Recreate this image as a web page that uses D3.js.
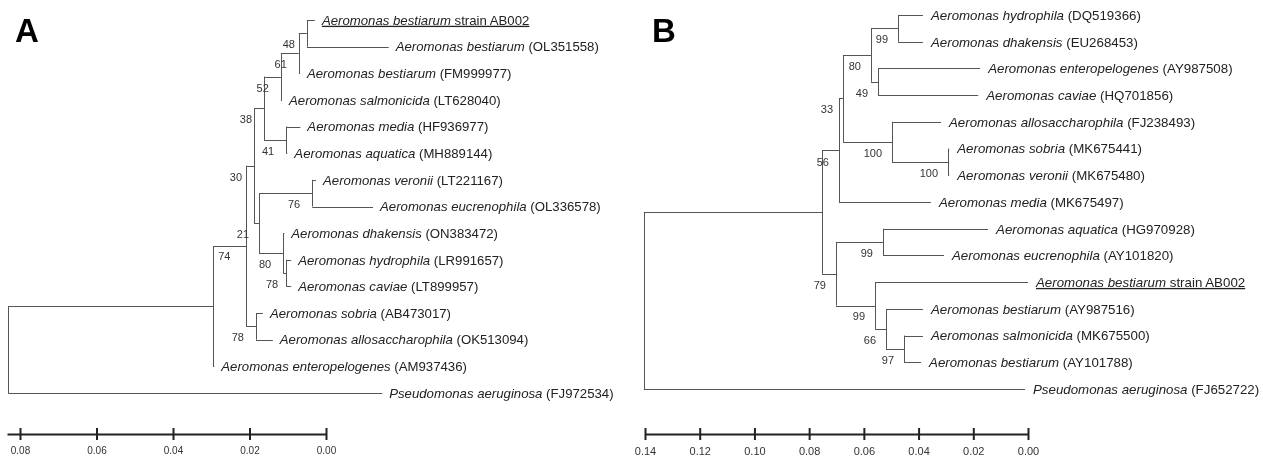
<!DOCTYPE html>
<html>
<head>
<meta charset="utf-8">
<script src="https://cdn.jsdelivr.net/npm/d3@7"></script>
<style>
  body { margin: 0; background: #fff; }
  svg { display: block; font-family: "Liberation Sans", Arial, sans-serif; }
  svg text { -webkit-font-smoothing: antialiased; }
  .layer { opacity: 0.999; }
</style>
</head>
<body>
<svg id="chart" width="1263" height="459"></svg>
<script>
// Tree A: [id, parent, branch length, bootstrap]
const treeA = [
  ['rA', null, 0],
  ['a74', 'rA', 0.0536, 74],
  ['a21', 'a74', 0.0086, 21],
  ['a30', 'a21', 0.0021, 30],
  ['a38', 'a30', 0.0026, 38],
  ['a52', 'a38', 0.0044, 52],
  ['a61', 'a52', 0.0047, 61],
  ['a48', 'a61', 0.0021, 48],
  ['AB002', 'a48', 0.0021],
  ['OL351558', 'a48', 0.0214],
  ['FM999977', 'a61', 0.0003],
  ['LT628040', 'a52', 0.0003],
  ['a41', 'a38', 0.0058, 41],
  ['HF936977', 'a41', 0.0037],
  ['MH889144', 'a41', 0.0003],
  ['aX', 'a30', 0.0013],
  ['a76', 'aX', 0.0139, 76],
  ['LT221167', 'a76', 0.0010],
  ['OL336578', 'a76', 0.0159],
  ['a80', 'aX', 0.0063, 80],
  ['ON383472', 'a80', 0.0003],
  ['a78', 'a80', 0.0008, 78],
  ['LR991657', 'a78', 0.0013],
  ['LT899957', 'a78', 0.0013],
  ['a78b', 'a21', 0.0026, 78],
  ['AB473017', 'a78b', 0.0018],
  ['OK513094', 'a78b', 0.0044],
  ['AM937436', 'a74', 0.0003],
  ['FJ972534', 'rA', 0.0978]
];

// leaf id -> species name
const speciesA = {
  AB002: 'Aeromonas bestiarum', OL351558: 'Aeromonas bestiarum', FM999977: 'Aeromonas bestiarum',
  LT628040: 'Aeromonas salmonicida', HF936977: 'Aeromonas media', MH889144: 'Aeromonas aquatica',
  LT221167: 'Aeromonas veronii', OL336578: 'Aeromonas eucrenophila', ON383472: 'Aeromonas dhakensis',
  LR991657: 'Aeromonas hydrophila', LT899957: 'Aeromonas caviae', AB473017: 'Aeromonas sobria',
  OK513094: 'Aeromonas allosaccharophila', AM937436: 'Aeromonas enteropelogenes',
  FJ972534: 'Pseudomonas aeruginosa'
};

// Tree B
const treeB = [
  ['rB', null, 0],
  ['bT', 'rB', 0.0651],
  ['b56', 'bT', 0.0062, 56],
  ['b33', 'b56', 0.0015, 33],
  ['b80', 'b33', 0.0102, 80],
  ['b99a', 'b80', 0.0099, 99],
  ['DQ519366', 'b99a', 0.0091],
  ['EU268453', 'b99a', 0.0091],
  ['b49', 'b80', 0.0026, 49],
  ['AY987508', 'b49', 0.0373],
  ['HQ701856', 'b49', 0.0366],
  ['b100a', 'b33', 0.0179, 100],
  ['FJ238493', 'b100a', 0.0179],
  ['b100b', 'b100a', 0.0205, 100],
  ['MK675441', 'b100b', 0.0004],
  ['MK675480', 'b100b', 0.0004],
  ['MK675497', 'b56', 0.0336],
  ['b79', 'bT', 0.0051, 79],
  ['b99c', 'b79', 0.0172, 99],
  ['HG970928', 'b99c', 0.0384],
  ['AY101820', 'b99c', 0.0223],
  ['b99d', 'b79', 0.0143, 99],
  ['AB002', 'b99d', 0.0559],
  ['b66', 'b99d', 0.0040, 66],
  ['AY987516', 'b66', 0.0135],
  ['b97', 'b66', 0.0066, 97],
  ['MK675500', 'b97', 0.0069],
  ['AY101788', 'b97', 0.0062],
  ['FJ652722', 'rB', 0.1393]
];

const speciesB = {
  DQ519366: 'Aeromonas hydrophila', EU268453: 'Aeromonas dhakensis', AY987508: 'Aeromonas enteropelogenes',
  HQ701856: 'Aeromonas caviae', FJ238493: 'Aeromonas allosaccharophila', MK675441: 'Aeromonas sobria',
  MK675480: 'Aeromonas veronii', MK675497: 'Aeromonas media', HG970928: 'Aeromonas aquatica',
  AY101820: 'Aeromonas eucrenophila', AB002: 'Aeromonas bestiarum', AY987516: 'Aeromonas bestiarum',
  MK675500: 'Aeromonas salmonicida', AY101788: 'Aeromonas bestiarum', FJ652722: 'Pseudomonas aeruginosa'
};

// scale bar ticks
const ticksA = [0.08, 0.06, 0.04, 0.02, 0.00];
const ticksB = [0.14, 0.12, 0.10, 0.08, 0.06, 0.04, 0.02, 0.00];

const svg = d3.select('#chart');
const lineColor = '#555';

function drawTree(rows, species, cfg) {
  const g = svg.append('g').attr('class', 'layer');
  const root = d3.stratify().id(d => d[0]).parentId(d => d[1])(rows);

  // cumulative distance from the root
  root.eachBefore(d => { d.dist = d.parent ? d.parent.dist + d.data[2] : 0; });
  const leaves = root.leaves();
  const y = d3.scaleLinear().domain([0, leaves.length - 1]).range(cfg.yRange);
  leaves.forEach((d, i) => { d.py = y(i); });
  root.eachAfter(d => {
    if (d.children) d.py = (d.children[0].py + d.children[d.children.length - 1].py) / 2;
  });
  root.each(d => { d.px = cfg.x(cfg.rootAt - d.dist); });

  const crisp = v => Math.round(v) + 0.5;

  // horizontal branches
  g.selectAll('line.h')
    .data(root.descendants().filter(d => d.parent))
    .join('line')
    .attr('x1', d => d.parent.px).attr('x2', d => d.px)
    .attr('y1', d => crisp(d.py)).attr('y2', d => crisp(d.py))
    .attr('stroke', lineColor).attr('stroke-width', 1);

  // vertical connectors
  g.selectAll('line.v')
    .data(root.descendants().filter(d => d.children))
    .join('line')
    .attr('x1', d => crisp(d.px)).attr('x2', d => crisp(d.px))
    .attr('y1', d => d.children[0].py).attr('y2', d => d.children[d.children.length - 1].py)
    .attr('stroke', lineColor).attr('stroke-width', 1);

  // leaf labels
  const lab = g.selectAll('text.leaf')
    .data(leaves)
    .join('text')
    .attr('x', d => d.px + cfg.gap)
    .attr('y', d => d.py)
    .attr('dy', '0.36em')
    .attr('font-size', cfg.leafSize)
    .attr('fill', '#222')
    .attr('text-decoration', d => d.id === 'AB002' ? 'underline' : null);
  lab.append('tspan').attr('font-style', 'italic').text(d => species[d.id]);
  lab.append('tspan').text(d => d.id === 'AB002' ? ' strain AB002' : ` (${d.id})`);

  // bootstrap values, placed left-below their node
  g.selectAll('text.boot')
    .data(root.descendants().filter(d => d.data[3] != null))
    .join('text')
    .attr('font-size', 11)
    .attr('fill', '#333')
    .each(function(d) {
      const n = (cfg.nudge && cfg.nudge[d.id]) || [cfg.bootDx, 11, 'end'];
      d3.select(this)
        .attr('x', d.px + n[0]).attr('y', d.py + n[1])
        .attr('dy', '0.36em').attr('text-anchor', n[2]);
    })
    .text(d => d.data[3]);

  // scale bar
  const axis = d3.axisBottom(cfg.x)
    .tickValues(cfg.ticks)
    .tickFormat(d3.format('.2f'))
    .tickSizeOuter(0).tickSizeInner(0).tickPadding(cfg.tickPad);
  const ag = g.append('g').attr('transform', `translate(0,${cfg.axisY})`).call(axis);
  ag.select('.domain').attr('stroke', '#222').attr('stroke-width', 2);
  ag.selectAll('.tick line').attr('y1', -6).attr('y2', 6).attr('stroke', '#222').attr('stroke-width', 2);
  ag.selectAll('.tick text').attr('font-size', cfg.tickSize).attr('fill', '#333')
    .attr('font-family', '"Liberation Sans", Arial, sans-serif');

  // panel letter
  g.append('text')
    .attr('x', cfg.letterX).attr('y', 42)
    .attr('font-size', 33).attr('font-weight', 'bold')
    .attr('font-family', '"Liberation Sans", Arial, sans-serif')
    .text(cfg.letter);
}

drawTree(treeA, speciesA, {
  x: d3.scaleLinear().domain([0.0834, 0]).range([7, 326]),
  rootAt: 0.0831,
  yRange: [20, 393],
  ticks: ticksA,
  axisY: 434,
  tickPad: 13,
  tickSize: 10,
  leafSize: 13.2,
  gap: 7,
  bootDx: -12,
  letter: 'A',
  letterX: 15,
  nudge: { a21: [3, -12, 'end'], a74: [5, -50, 'start'], a78: [-8, 11, 'end'] }
});

drawTree(treeB, speciesB, {
  x: d3.scaleLinear().domain([0.14, 0]).range([645, 1028]),
  rootAt: 0.1404,
  yRange: [15, 389],
  ticks: ticksB,
  axisY: 434,
  tickPad: 13,
  tickSize: 11,
  leafSize: 13.3,
  gap: 8,
  bootDx: -10,
  letter: 'B',
  letterX: 652,
  nudge: { b56: [-10, 12, 'end'] }
});
</script>
</body>
</html>
